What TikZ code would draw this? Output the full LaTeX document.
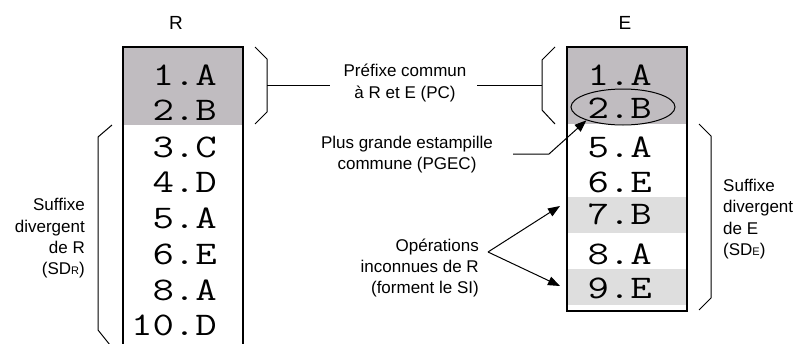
\documentclass[tikz,border=0pt]{standalone}
\usepackage{fontspec}
\setmainfont{Liberation Sans}
\newfontfamily\monof{Latin Modern Mono}[FakeStretch=1.26]
\usetikzlibrary{arrows.meta,shapes.geometric}
\definecolor{darkband}{RGB}{192,188,192}
\definecolor{lightband}{RGB}{222,222,222}
\begin{document}
\begin{tikzpicture}[x=1pt,y=-1pt,
  lbl/.style={font=\fontsize{17}{21.3}\selectfont, inner sep=0pt},
  head/.style={font=\fontsize{19}{19}\selectfont, inner sep=0pt},
  entry/.style={font=\monof\fontsize{33}{33}\selectfont, inner sep=0pt, anchor=east},
  boxline/.style={line width=1.3pt},
  brace/.style={line width=1pt},
  conn/.style={line width=1pt},
  arr/.style={line width=1pt, -{Triangle[length=12pt,width=9pt]}}
]
\useasboundingbox (0,0) rectangle (797,343);
% ---------- R column ----------
\fill[darkband] (123,47) rectangle (243,125);
\draw[boxline] (123,346) -- (123,47) -- (243,47) -- (243,346);
\node[head] (Rl) at (176,23) {R};
\node[entry] (r1) at (217,75) {1.A};
\node[entry] (r2) at (217,110) {2.B};
\node[entry] (r3) at (217,147) {3.C};
\node[entry] (r4) at (217,182) {4.D};
\node[entry] (r5) at (217,218) {5.A};
\node[entry] (r6) at (217,254) {6.E};
\node[entry] (r8) at (217,290) {8.A};
\node[entry] (r10) at (217,325) {10.D};
% ---------- E column ----------
\fill[darkband] (567,47) rectangle (687,124);
\fill[lightband] (567,197) rectangle (687,233);
\fill[lightband] (567,269) rectangle (687,305);
\draw[boxline] (567,47) rectangle (687,311);
\node[head] (El) at (625,23) {E};
\node[entry] (e1) at (652,75) {1.A};
\node[entry] (e2) at (652,108) {2.B};
\node[entry] (e5) at (652,147) {5.A};
\node[entry] (e6) at (652,182) {6.E};
\node[entry] (e7) at (652,214) {7.B};
\node[entry] (e8) at (652,254) {8.A};
\node[entry] (e9) at (652,288) {9.E};
\node[draw, ellipse, line width=1pt, minimum width=104pt, minimum height=36pt, inner sep=0pt] (ell) at (623,107) {};
% ---------- braces ----------
\draw[brace] (255,47) -- (267,59) -- (267,112) -- (255,124);
\draw[brace] (555,47) -- (542,60) -- (542,110) -- (555,124);
\draw[brace] (112,125) -- (98,137) -- (98,330) -- (110,345);
\draw[brace] (699,124) -- (711,136) -- (711,298) -- (699,310);
% ---------- labels ----------
\node[lbl, align=center] (pc) at (405,83) {Préfixe commun\\à R et E (PC)};
\node[lbl, align=center] (pgec) at (407,154.5) {Plus grande estampille\\commune (PGEC)};
\node[lbl, align=right, anchor=east] (op) at (479,268) {Opérations\\inconnues de R\\(forment le SI)};
\node[lbl, align=right, anchor=east] (sdr) at (85,238.5) {Suffixe\\divergent\\de R\\(SD{\fontsize{11}{11}\selectfont R})};
\node[lbl, align=left, anchor=west] (sde) at (723,219) {Suffixe\\divergent\\de E\\(SD{\fontsize{11}{11}\selectfont E})};
% ---------- connectors ----------
\coordinate (rtick) at (267,85);
\coordinate (pcL) at (330,85);
\coordinate (pcR) at (477,85);
\coordinate (etick) at (542,85);
\draw[conn] (rtick) -- (pcL);
\draw[conn] (pcR) -- (etick);
\coordinate (pgA) at (513,154);
\coordinate (pgB) at (549,154);
\draw[arr] (pgA) -- (pgB) -- (ell.200);
\coordinate (opv) at (488,252);
\coordinate (t7) at (560,206);
\coordinate (t9) at (560,286);
\draw[arr] (opv) -- (t7);
\draw[arr] (opv) -- (t9);
\end{tikzpicture}
\end{document}
